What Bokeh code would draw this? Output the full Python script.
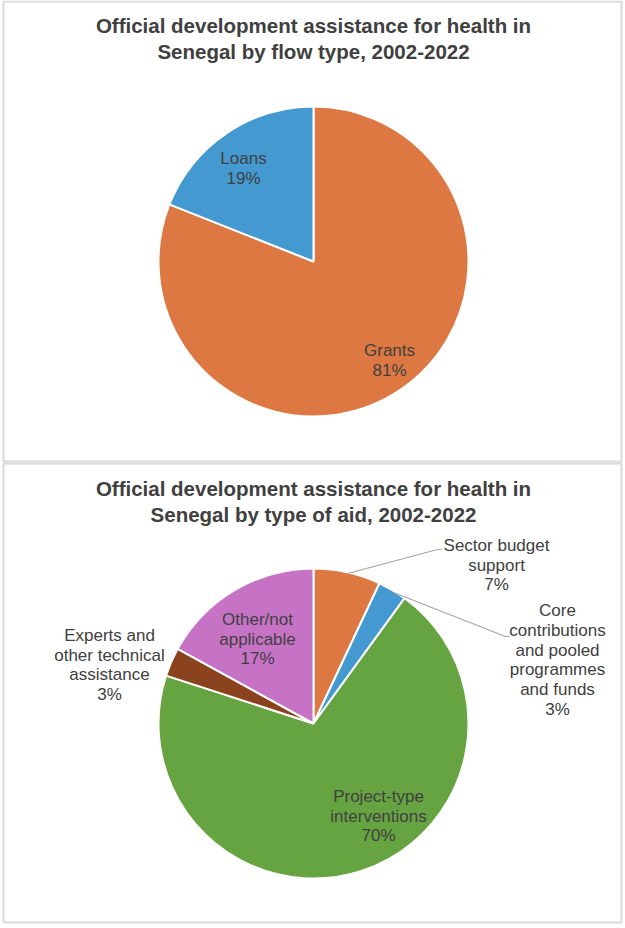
import math
from bokeh.plotting import figure
from bokeh.models import Range1d, ColumnDataSource
from bokeh.core.properties import value
from bokeh.embed import file_html
from bokeh.resources import INLINE

# ---- data ----
flow_types = ["Grants", "Loans"]
flow_shares = [81, 19]
flow_label_lines = [["Grants"], ["Loans"]]
flow_colors = ["#DE7843", "#4499D1"]

aid_types = ["Sector budget support",
             "Core contributions and pooled programmes and funds",
             "Project-type interventions",
             "Experts and other technical assistance",
             "Other/not applicable"]
aid_shares = [7, 3, 70, 3, 17]
aid_label_lines = [["Sector budget", "support"],
                   ["Core", "contributions", "and pooled", "programmes", "and funds"],
                   ["Project-type", "interventions"],
                   ["Experts and", "other technical", "assistance"],
                   ["Other/not", "applicable"]]
aid_colors = ["#DE7843", "#4499D1", "#66A441", "#8B421F", "#C673C6"]

title_top = ["Official development assistance for health in",
             "Senegal by flow type, 2002-2022"]
title_bottom = ["Official development assistance for health in",
                "Senegal by type of aid, 2002-2022"]

W, H = 625, 928
FONT = value("Liberation Sans")
TXT = "#404040"

p = figure(width=W, height=H, x_range=Range1d(0, W), y_range=Range1d(0, H),
           output_backend="svg", toolbar_location=None, min_border=0)
p.axis.visible = False
p.grid.visible = False
p.outline_line_color = None
p.background_fill_color = "white"
p.border_fill_color = "white"


def Y(py):
    return H - py


# panel frames
p.quad(left=[3, 3], right=[621, 621], top=[Y(1), Y(463)], bottom=[Y(461), Y(922)],
       fill_color=None, line_color="#D9D9D9", line_width=2)


def pie(cx, cy, r, shares, colors):
    total = float(sum(shares))
    starts, ends, mids = [], [], []
    cum = 0.0
    for s in shares:
        f0 = cum / total
        cum += s
        f1 = cum / total
        starts.append(math.pi / 2 - 2 * math.pi * f1)
        ends.append(math.pi / 2 - 2 * math.pi * f0)
        mids.append((f0 + f1) / 2)
    src = ColumnDataSource(dict(x=[cx] * len(shares), y=[Y(cy)] * len(shares),
                                s=starts, e=ends, c=colors))
    p.wedge(x="x", y="y", radius=r, start_angle="s", end_angle="e",
            fill_color="c", line_color="white", line_width=2, source=src)
    return [round(100 * s / total) for s in shares]


def label(x, py, lines, size="17px", bold=False, lh=19.7):
    ys = [Y(py + i * lh) for i in range(len(lines))]
    p.text(x=[x] * len(lines), y=ys, text=lines, text_font=FONT,
           text_font_size=size, text_color=TXT, text_align="center",
           text_baseline="middle",
           text_font_style="bold" if bold else "normal")


# titles
label(313, 25, title_top, size="20.5px", bold=True, lh=25.5)
label(313, 488, title_bottom, size="20.5px", bold=True, lh=25.5)

# top pie
pct = pie(313, 261, 155, flow_shares, flow_colors)
label(389, 350, flow_label_lines[0] + [f"{pct[0]}%"])
label(243, 158, flow_label_lines[1] + [f"{pct[1]}%"])

# bottom pie
pct2 = pie(313, 723, 155, aid_shares, aid_colors)
label(496, 545, aid_label_lines[0] + [f"{pct2[0]}%"])
label(557, 610, aid_label_lines[1] + [f"{pct2[1]}%"], lh=19.8)
label(378, 796, aid_label_lines[2] + [f"{pct2[2]}%"])
label(109, 635, aid_label_lines[3] + [f"{pct2[3]}%"])
label(257, 619, aid_label_lines[4] + [f"{pct2[4]}%"])

# leader lines
p.line(x=[347, 437, 441], y=[Y(573), Y(549), Y(549)], line_color="#A6A6A6", line_width=1.2)
p.line(x=[393, 505, 509], y=[Y(592), Y(636), Y(636)], line_color="#A6A6A6", line_width=1.2)

open("out.html", "w").write(file_html(p, INLINE))
